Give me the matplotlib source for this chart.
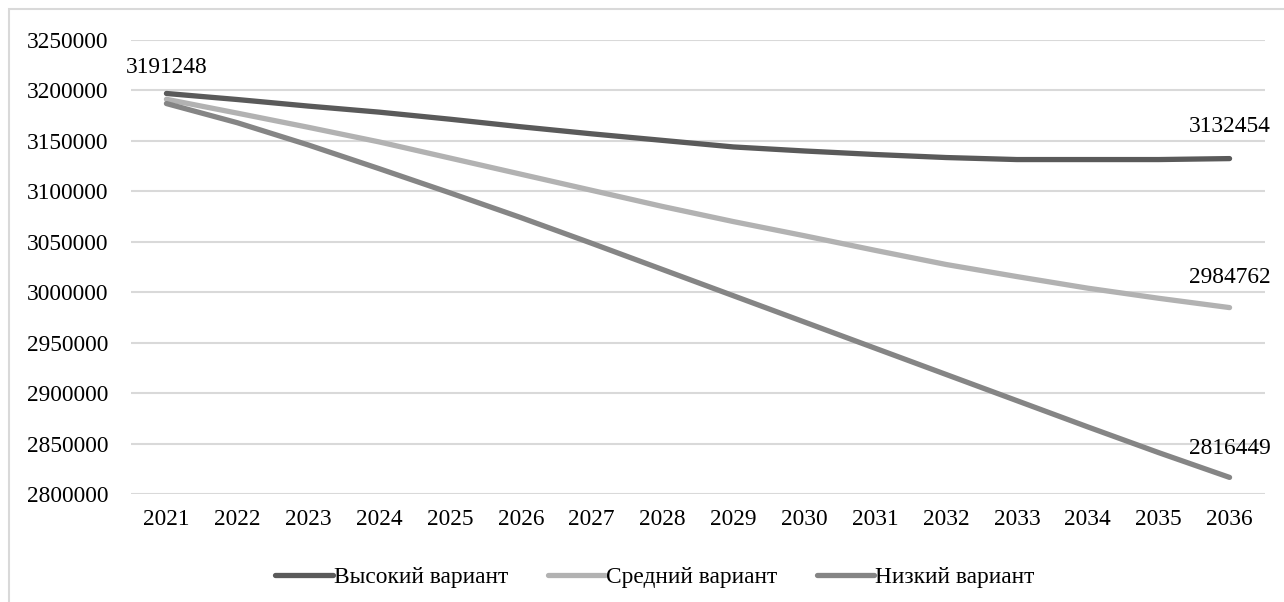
import matplotlib
matplotlib.use("Agg")
import matplotlib.pyplot as plt
from matplotlib.patches import Rectangle

years = ["2021", "2022", "2023", "2024", "2025", "2026", "2027", "2028",
         "2029", "2030", "2031", "2032", "2033", "2034", "2035", "2036"]
high = [3197000, 3191000, 3184500, 3178500, 3171500, 3164000, 3157000, 3150500,
        3144000, 3140000, 3136500, 3133500, 3131500, 3131500, 3131500, 3132454]
medium = [3191248, 3177500, 3163500, 3149000, 3133000, 3117000, 3101000, 3085000,
          3070000, 3056000, 3041500, 3027500, 3015500, 3004000, 2994000, 2984762]
low = [3187000, 3168000, 3146000, 3122500, 3098500, 3074000, 3048500, 3022500,
       2996500, 2970500, 2944500, 2918500, 2892500, 2866500, 2841000, 2816449]
series_names = ["Высокий вариант", "Средний вариант", "Низкий вариант"]
yticks = [2800000, 2850000, 2900000, 2950000, 3000000, 3050000, 3100000,
          3150000, 3200000, 3250000]

plt.rcParams['font.family'] = ['Liberation Serif', 'DejaVu Serif']

fig = plt.figure(figsize=(12.84, 6.02), dpi=100)
W, H = 1284, 602
fig.patches.append(Rectangle((9 / W, -0.1), 1.2, 1 - 9 / H + 0.1,
                             transform=fig.transFigure, fill=False,
                             edgecolor="#d9d9d9", linewidth=1.5))
ax = fig.add_axes([131 / W, 1 - 494 / H, (1265 - 131) / W, (494 - 40) / H])

x = list(range(len(years)))
colors = ["#5a5a5a", "#b2b2b2", "#858585"]
for vals, name, c in zip([high, medium, low], series_names, colors):
    ax.plot(x, vals, color=c, linewidth=3.8, solid_capstyle="round", label=name)

fs = 16.8
ax.set_xlim(-0.5, len(years) - 0.5)
ax.set_ylim(2800000, 3250000)
ax.set_yticks(yticks)
ax.set_yticklabels([str(v) for v in yticks])
ax.set_xticks(x)
ax.set_xticklabels(years)
ax.grid(axis="y", color="#d9d9d9", linewidth=1.5)
ax.set_axisbelow(True)
for s in ax.spines.values():
    s.set_visible(False)
ax.tick_params(axis="both", length=0, labelsize=fs, colors="#000000")
ax.tick_params(axis="y", pad=16)
ax.tick_params(axis="x", pad=11)

ax.annotate(str(medium[0]), (x[0], medium[0]), xytext=(0, 23),
            textcoords="offset points", ha="center", va="center", fontsize=fs)
ax.annotate(str(high[-1]), (x[-1], high[-1]), xytext=(0, 23),
            textcoords="offset points", ha="center", va="center", fontsize=fs)
ax.annotate(str(medium[-1]), (x[-1], medium[-1]), xytext=(0, 22),
            textcoords="offset points", ha="center", va="center", fontsize=fs)
ax.annotate(str(low[-1]), (x[-1], low[-1]), xytext=(0, 21),
            textcoords="offset points", ha="center", va="center", fontsize=fs)

fig.legend(loc="center", bbox_to_anchor=(655 / W, 1 - 577 / H), ncol=3,
           frameon=False, fontsize=fs, handlelength=2.45, handletextpad=0.05,
           columnspacing=1.7)

fig.savefig("out.png", dpi=100)
